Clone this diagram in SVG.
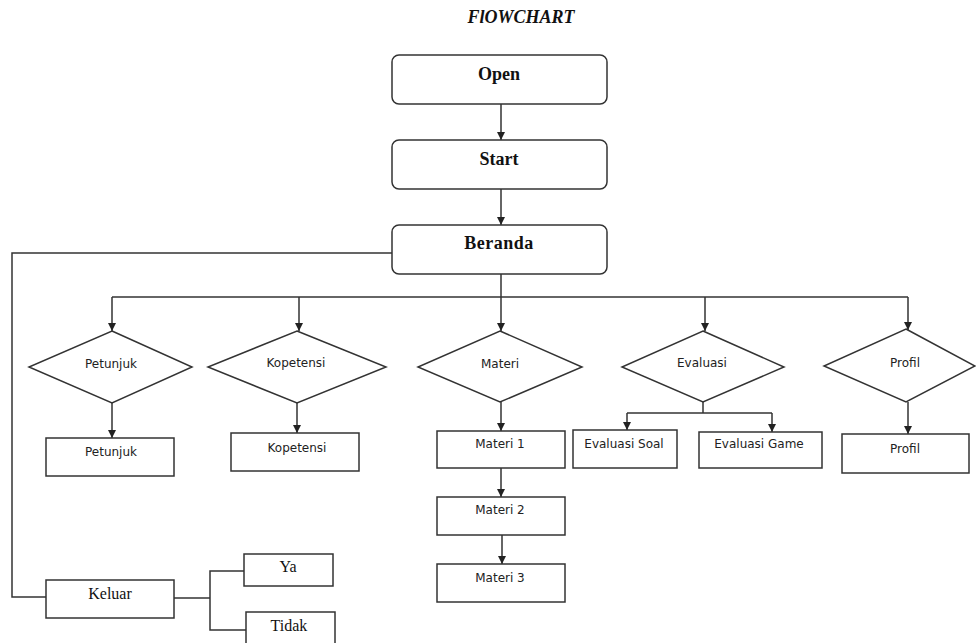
<svg xmlns="http://www.w3.org/2000/svg" width="976" height="643" viewBox="0 0 976 643">
<defs>
<marker id="ah" viewBox="0 0 10 10" refX="10" refY="5" markerWidth="8" markerHeight="8" markerUnits="userSpaceOnUse" orient="auto">
<path d="M0,0 L10,5 L0,10 z" fill="#222"/>
</marker>
<style>
.b{fill:#fff;stroke:#333;stroke-width:1.5}
.c{fill:none;stroke:#333;stroke-width:1.5}
.a{marker-end:url(#ah)}
.sb{font-family:"Liberation Serif",serif;font-weight:bold;font-size:18px;fill:#111;text-anchor:middle}
.sr{font-family:"Liberation Serif",serif;font-size:16px;fill:#111;text-anchor:middle}
.ss{font-family:"DejaVu Sans",Verdana,sans-serif;font-size:12px;fill:#222;text-anchor:middle}
</style>
</defs>
<rect width="976" height="643" fill="#fff"/>
<text x="521" y="23" class="sb" font-style="italic" font-size="18">FlOWCHART</text>

<g id="connectors">
<line class="c a" x1="501" y1="104" x2="501" y2="140"/>
<line class="c a" x1="501" y1="189" x2="501" y2="225"/>
<polyline class="c" points="392,253 12,253 12,597 46,597"/>
<line class="c" x1="501" y1="274" x2="501" y2="297"/>
<line class="c" x1="112" y1="297" x2="908" y2="297"/>
<line class="c a" x1="112" y1="297" x2="112" y2="331"/>
<line class="c a" x1="299" y1="297" x2="299" y2="331"/>
<line class="c a" x1="501" y1="297" x2="501" y2="331"/>
<line class="c a" x1="705" y1="297" x2="705" y2="331"/>
<line class="c a" x1="908" y1="297" x2="908" y2="330"/>
<line class="c a" x1="112" y1="403" x2="112" y2="438"/>
<line class="c a" x1="297" y1="403" x2="297" y2="433"/>
<line class="c a" x1="501" y1="402" x2="501" y2="431"/>
<line class="c a" x1="501" y1="468" x2="501" y2="497"/>
<line class="c a" x1="502" y1="535" x2="502" y2="564"/>
<line class="c" x1="703" y1="402" x2="703" y2="413"/>
<line class="c" x1="627" y1="413" x2="772" y2="413"/>
<line class="c a" x1="627" y1="413" x2="627" y2="430"/>
<line class="c a" x1="772" y1="413" x2="772" y2="432"/>
<line class="c a" x1="908" y1="402" x2="908" y2="434"/>
<line class="c" x1="174" y1="598" x2="210" y2="598"/>
<polyline class="c" points="244,571 210,571 210,630 246,630"/>
</g>

<g id="open"><rect class="b" x="392" y="55" width="215" height="49" rx="7"/><text x="499" y="80" class="sb">Open</text></g>
<g id="start"><rect class="b" x="392" y="140" width="215" height="49" rx="7"/><text x="499" y="165" class="sb">Start</text></g>
<g id="beranda"><rect class="b" x="392" y="225" width="215" height="49" rx="7"/><text x="499" y="249" class="sb" letter-spacing="0.5">Beranda</text></g>

<g id="d-petunjuk"><polygon class="b" points="112,331 192,367 112,403 29,367"/><text x="111" y="368" class="ss">Petunjuk</text></g>
<g id="d-kopetensi"><polygon class="b" points="297,331 386,367 297,403 208,367"/><text x="296" y="367" class="ss">Kopetensi</text></g>
<g id="d-materi"><polygon class="b" points="500,331 582,367 500,402 418,367"/><text x="500" y="368" class="ss">Materi</text></g>
<g id="d-evaluasi"><polygon class="b" points="703,331 784,367 703,402 622,367"/><text x="702" y="367" class="ss">Evaluasi</text></g>
<g id="d-profil"><polygon class="b" points="906,329 975,366 906,402 824,366"/><text x="905" y="367" class="ss">Profil</text></g>

<g id="r-petunjuk"><rect class="b" x="46" y="438" width="128" height="38"/><text x="111" y="456" class="ss">Petunjuk</text></g>
<g id="r-kopetensi"><rect class="b" x="231" y="433" width="128" height="38"/><text x="297" y="452" class="ss">Kopetensi</text></g>
<g id="materi1"><rect class="b" x="437" y="431" width="128" height="37"/><text x="500" y="448" class="ss">Materi 1</text></g>
<g id="materi2"><rect class="b" x="437" y="497" width="128" height="38"/><text x="500" y="514" class="ss">Materi 2</text></g>
<g id="materi3"><rect class="b" x="437" y="564" width="128" height="38"/><text x="500" y="582" class="ss">Materi 3</text></g>
<g id="evaluasi-soal"><rect class="b" x="573" y="430" width="104" height="38"/><text x="624" y="448" class="ss">Evaluasi Soal</text></g>
<g id="evaluasi-game"><rect class="b" x="699" y="432" width="123" height="36"/><text x="759" y="448" class="ss">Evaluasi Game</text></g>
<g id="r-profil"><rect class="b" x="842" y="434" width="127" height="39"/><text x="905" y="453" class="ss">Profil</text></g>

<g id="keluar"><rect class="b" x="46" y="580" width="128" height="38"/><text x="110" y="599" class="sr">Keluar</text></g>
<g id="ya"><rect class="b" x="244" y="554" width="89" height="32"/><text x="288" y="572" class="sr">Ya</text></g>
<g id="tidak"><rect class="b" x="246" y="612" width="89" height="40"/><text x="289" y="631" class="sr">Tidak</text></g>
</svg>
